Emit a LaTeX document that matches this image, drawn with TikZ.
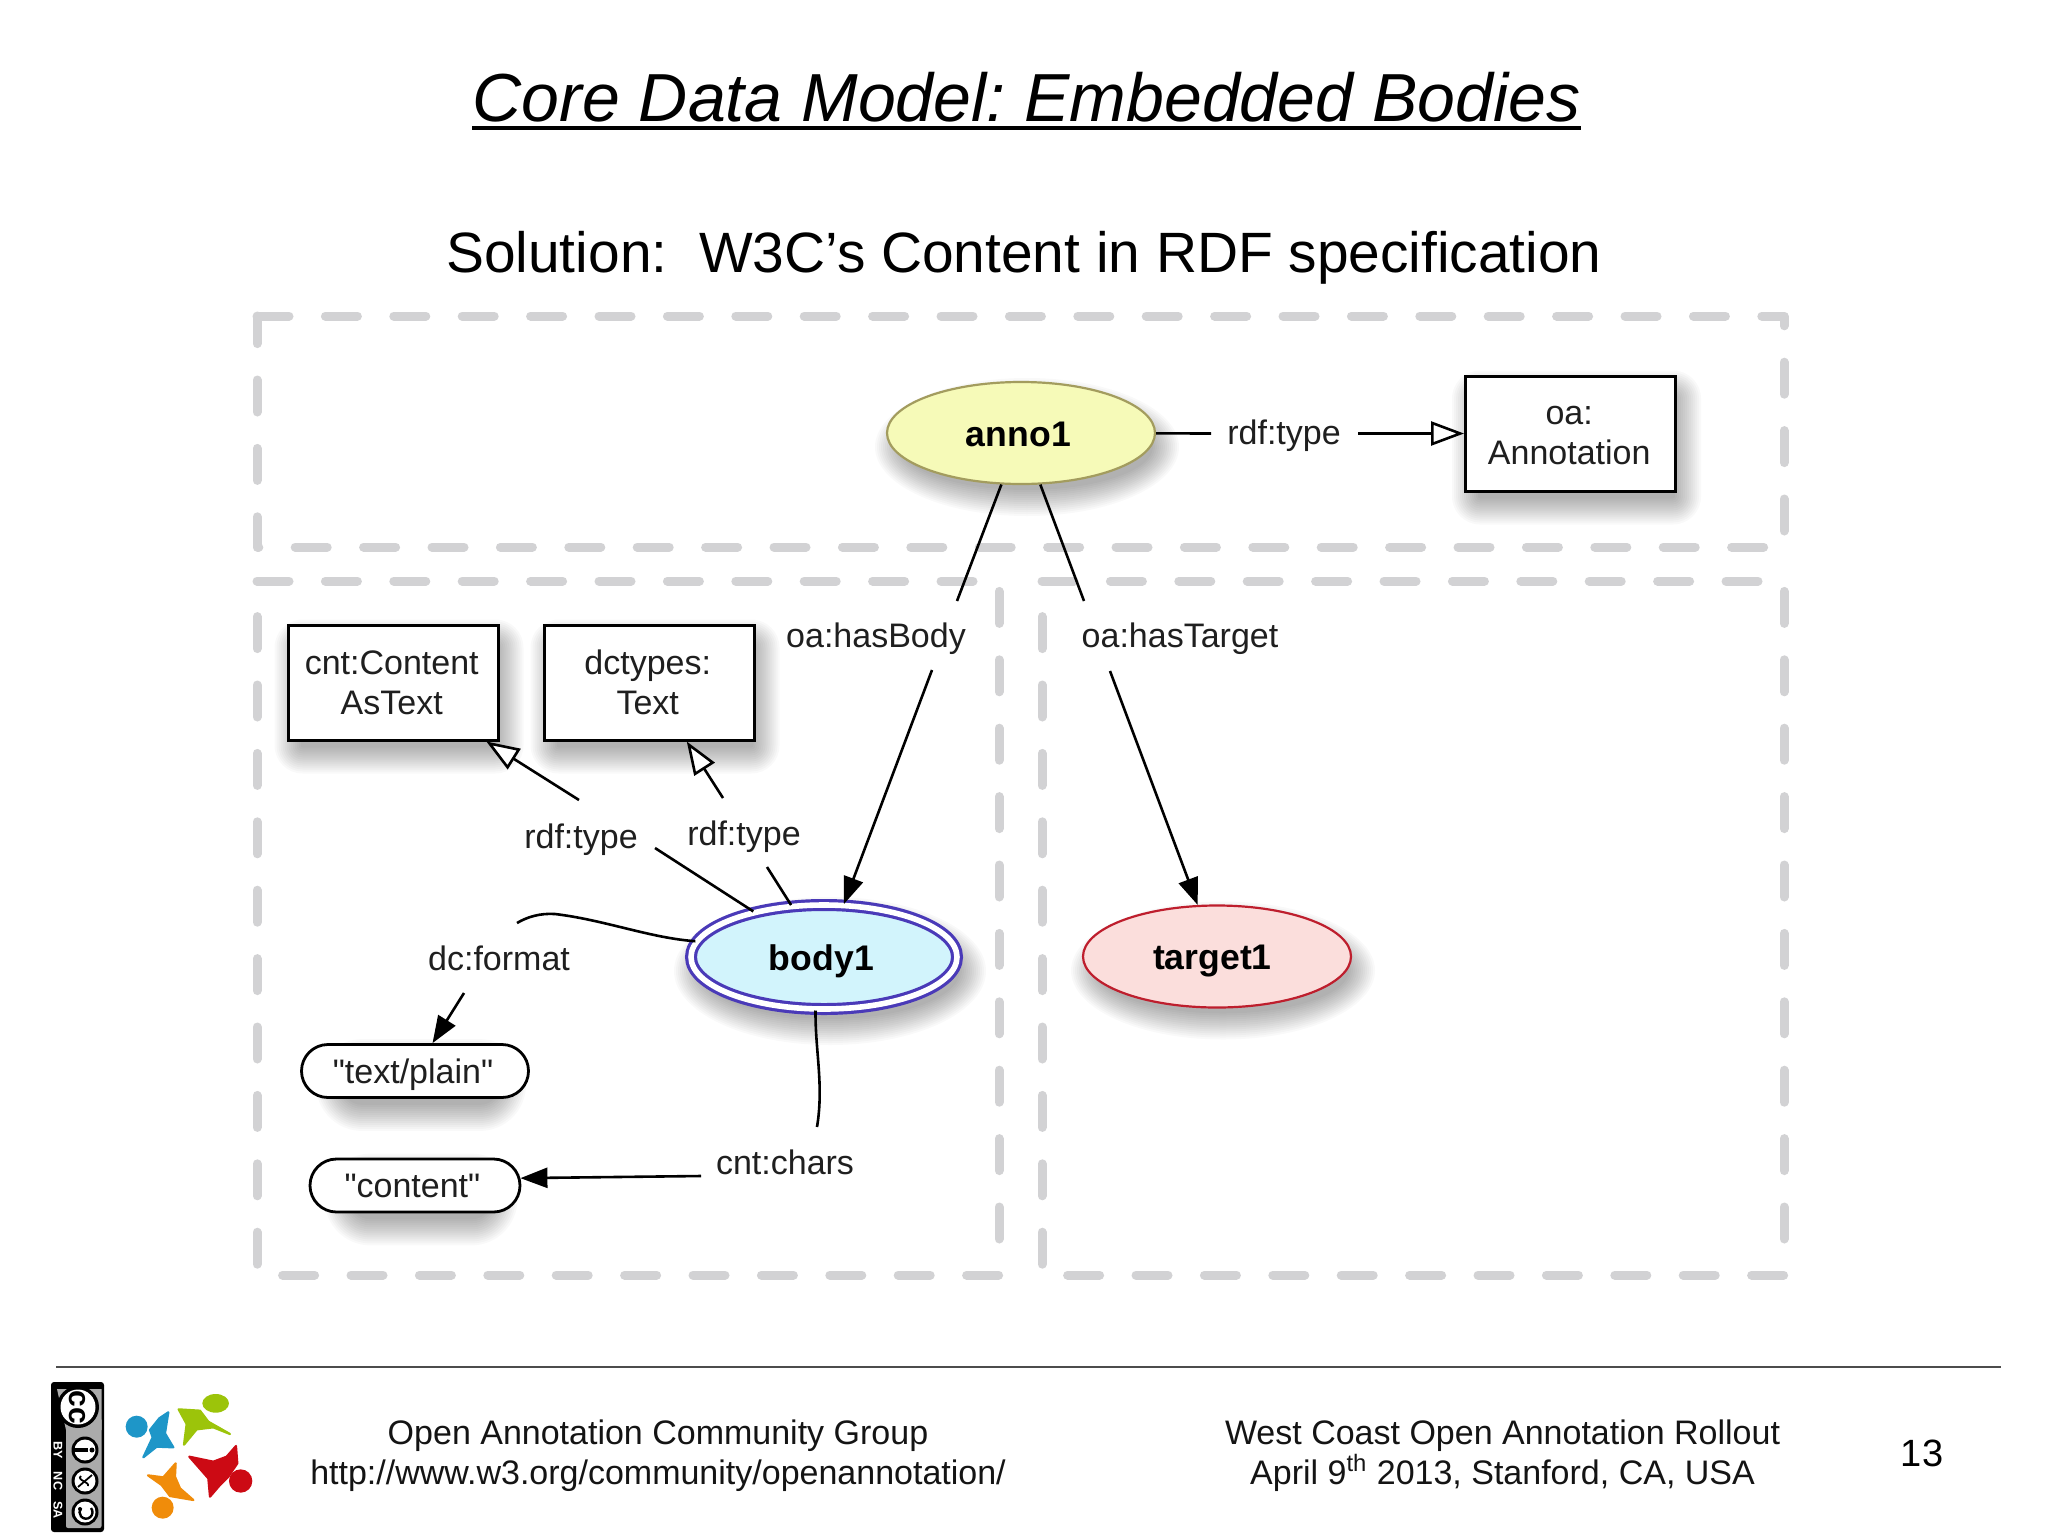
\documentclass[tikz,border=0pt]{standalone}
\usepackage{fontspec}
\setmainfont{Liberation Sans}
\newfontfamily\qfont{Liberation Sans}
\usetikzlibrary{arrows.meta,shapes.geometric,shapes.misc,calc}
\pgfdeclarelayer{bg}
\pgfsetlayers{bg,main}
\definecolor{dashgray}{HTML}{D2D2D4}
\definecolor{annofill}{HTML}{F6FAB8}
\definecolor{annoline}{HTML}{A39C5E}
\definecolor{bodyfill}{HTML}{D2F4FC}
\definecolor{bodyline}{HTML}{4A3AB8}
\definecolor{targetfill}{HTML}{FBDEDC}
\definecolor{targetline}{HTML}{BE1E2D}
\definecolor{ccgray}{HTML}{ABABAB}
\definecolor{lgblue}{HTML}{1E96C8}
\definecolor{lggreen}{HTML}{9CC40A}
\definecolor{lgred}{HTML}{CC0A14}
\definecolor{lgorange}{HTML}{F08C0A}
\newcommand{\rectshadow}[2]{%
  \foreach \s in {-4,-3,...,9}{%
    \fill[black,opacity=.024,rounded corners={max(#2+\s+5,1)*1pt}]
      ([xshift={(3-\s)*1pt},yshift={(-7+\s)*1pt}]#1.north west) rectangle
      ([xshift={(3+\s)*1pt},yshift={(-7-\s)*1pt}]#1.south east);}}
\newcommand{\ellshadow}[3]{%
  \foreach \s in {-4,-3,...,9}{%
    \fill[black,opacity=.024] ([xshift=3pt,yshift=-7pt]#1.center)
      ellipse [x radius={(#2+\s)*1pt},y radius={(#3+\s)*1pt}];}}
\tikzset{
  zone/.style={draw=dashgray,line width=4.5pt,line cap=round,line join=round,dash pattern=on 16pt off 18.2pt},
  dfont/.style={font=\fontsize{17}{20}\selectfont},
  lbl/.style={dfont,inner sep=0pt,text=black!88},
  klass/.style={dfont,draw=black,line width=1.5pt,fill=white,align=center,inner sep=0pt,
    minimum width=105pt,minimum height=57.5pt,text=black!88},
  inst/.style={ellipse,font=\fontsize{17.8}{20}\bfseries\selectfont,inner sep=0pt,minimum width=134pt,minimum height=51pt,line width=1.1pt,text height=13.3pt,text depth=0pt},
  lit/.style={dfont,rounded rectangle,draw=black,line width=1.4pt,fill=white,inner sep=0pt,minimum height=26.5pt,text=black!88,text height=12.4pt,text depth=0pt},
  edge/.style={draw=black,line width=1.3pt},
  solid head/.style={edge,-{Triangle[length=13.5pt,width=10pt]}},
  open head/.style={edge,-{Triangle[open,length=16.5pt,width=12pt,fill=white]}},
  foot/.style={font=\fontsize{17}{19.75}\selectfont,align=center,inner sep=0pt,text=black!92},
  logo/.style={line width=1.1pt,line join=round},
  cclabel/.style={rotate=-90,text=white,font=\fontsize{6.3}{6.3}\bfseries\selectfont,inner sep=0pt},
}
\begin{document}
\frenchspacing
\begin{tikzpicture}[x=.5pt,y=-.5pt]
\useasboundingbox (0,0) rectangle (2048,1536);
\begin{pgfonlayer}{bg}
\fill[white] (0,0) rectangle (2048,1536);
\end{pgfonlayer}

% title
\node[font=\fontsize{34}{40}\itshape\selectfont,anchor=base,inner sep=0pt] (title) at (1026.5,121) {Core Data Model: Embedded Bodies};
\draw[line width=2pt] ([yshift=-3.6pt]title.base west) -- ([yshift=-3.6pt]title.base east);
\node[font=\fontsize{28.43}{34}\selectfont,anchor=base,inner sep=0pt] (subtitle) at (1024,272) {Solution:\ \ W3C’s Content in RDF specification};

% zones
\draw[zone] (257,316) -| (1784,547) -| (257,316) -- cycle;
\draw[zone] (257,581) -| (999,1275) -| (257,581) -- cycle;
\draw[zone] (1042,581) -| (1784,1275) -| (1042,581) -- cycle;

% nodes
\node[inst,draw=annoline,fill=annofill] (anno1) at (1021,433) {anno1\kern2.6pt};
\node[inst,draw=bodyline,fill=bodyfill,double=white,double distance=2.8pt,line width=1.6pt,minimum width=133pt,minimum height=52pt] (body1) at (824,957) {body1\kern2.6pt};
\node[inst,draw=targetline,fill=targetfill] (target1) at (1217,956.5) {target1\kern4.6pt};
\node[klass] (annot) at (1570.5,433.5) {\rule{0pt}{11.5pt}oa:\kern1.3pt\\Annotation\kern1.3pt};
\node[klass] (content) at (393,682.5) {cnt:Content\kern1.3pt\\AsText\kern1.3pt};
\node[klass] (dctext) at (649,682.5) {dctypes:\kern1.3pt\\Text\kern1.3pt};
\node[lit,minimum width=113.5pt] (plain) at (415,1071) {\qfont "text/plain"\kern2pt};
\node[lit,minimum width=105pt] (cstr) at (415,1185.5) {\qfont "content"\kern2.6pt};

% shadows
\begin{pgfonlayer}{bg}
\ellshadow{anno1}{67}{25.5}
\ellshadow{body1}{69}{28}
\ellshadow{target1}{67}{25.5}
\rectshadow{annot}{0}
\rectshadow{content}{0}
\rectshadow{dctext}{0}
\rectshadow{plain}{9}
\rectshadow{cstr}{9}
\end{pgfonlayer}

% labels
\node[lbl] (ltype0) at (1284,436) {rdf:type};
\node[lbl] (lbody) at (876,639) {oa:hasBody};
\node[lbl] (ltarget) at (1180,639) {oa:hasTarget};
\node[lbl] (ltype1) at (581,840) {rdf:type};
\node[lbl] (ltype2) at (744,837) {rdf:type};
\node[lbl] (lformat) at (499,958) {dc:format};
\node[lbl] (lchars) at (785,1162) {cnt:chars};

% free ends of the broken connectors
\coordinate (a0) at (1211,433.5);
\coordinate (a1) at (1358,433.5);
\coordinate (b0) at (957,601);
\coordinate (b1) at (932,670);
\coordinate (t0) at (1084,601);
\coordinate (t1) at (1110,671);
\coordinate (c0) at (655,848);
\coordinate (c1) at (579,800);
\coordinate (d0) at (767,867);
\coordinate (d1) at (723,798);
\coordinate (f0) at (517,923);
\coordinate (f1) at (464,993);
\coordinate (h0) at (817,1127);
\coordinate (h1) at (701,1176);

\draw[edge] (anno1) -- (a0);
\draw[open head] (a1) -- (annot);
\draw[edge] (anno1) -- (b0);
\draw[solid head] (b1) -- (body1);
\draw[edge] (anno1) -- (t0);
\draw[solid head] (t1) -- (target1);
\draw[edge] (body1) -- (c0);
\draw[open head] (c1) -- (content);
\draw[edge] (body1) -- (d0);
\draw[open head] (d1) -- (dctext);
\draw[edge] (body1.173) .. controls (650,938) and (605,920) .. (555,914) .. controls (540,913) and (527,917) .. (f0);
\draw[solid head] (f1) -- (plain);
\draw[edge] (body1.261) .. controls (815,1050) and (824,1085) .. (h0);
\draw[solid head] (h1) -- (cstr.4);

% footer
\coordinate (fl) at (56,1367);
\coordinate (fr) at (2001,1367);
\draw[black!70,line width=.8pt] (fl) -- (fr);
\node[foot] (fleft) at (658,1455.5) {Open Annotation Community Group\\http://www.w3.org/community/openannotation/};
\node[foot] (fright) at (1502.5,1455.5) {West Coast Open Annotation Rollout\\April 9\textsuperscript{th} 2013, Stanford, CA, USA};
\node[font=\fontsize{19}{22}\selectfont,inner sep=0pt] (pageno) at (1922,1453) {13};

% CC badge
\fill[black,rounded corners=1.5pt] (51,1382) rectangle (104,1532);
\fill[ccgray,rounded corners=1pt] (66,1418) rectangle (101.5,1528);
\fill[ccgray] (57,1389) -- (101.5,1389) -- (101.5,1430) -- (66,1430) -- cycle;
\fill[black] (78,1407) circle (21);
\fill[white] (78,1407) circle (17.5);
\node[rotate=-90,font=\fontsize{15}{15}\bfseries\selectfont,inner sep=0pt] (cc) at (77,1407) {cc};
\foreach \cy in {1450,1481,1512}{
  \fill[black] (85,\cy) circle (13.5);
  \fill[white] (85,\cy) circle (10.5);}
\fill[black] (92,1450) circle (2.5);
\fill[black] (74,1448) rectangle (88,1452);
\draw[black,line width=.9pt] (78,1487) -- (92,1475);
\draw[black,line width=.9pt] (81,1476) .. controls (76,1480) and (90,1482) .. (88,1486);
\draw[black,line width=1.2pt] (91,1508) arc[start angle=-40,end angle=220,radius=6.5];
\fill[black] (80,1509) circle (2);
\node[cclabel] (by) at (58,1450) {BY};
\node[cclabel] (nc) at (58,1481) {NC};
\node[cclabel] (sa) at (58,1510) {SA};

% community logo (drawn in the 3x coordinates of its crop)
\begin{scope}[x=.5pt/3,y=-.5pt/3,yshift=-675pt]
\fill[lgblue] (410,230) circle (33);
\filldraw[lgblue,logo] (505,187) -- (478,205) -- (450,240) -- (458,262) -- (430,322) -- (470,290) -- (520,292) -- (495,250) -- cycle;
\fill[lggreen] (647,160) ellipse [x radius=40,y radius=28];
\filldraw[lggreen,logo] (536,178) -- (600,182) -- (625,215) -- (690,252) -- (640,232) -- (590,238) -- (552,284) -- (560,222) -- cycle;
\fill[lgred] (722,393) circle (35);
\filldraw[lgred,logo] (568,320) -- (640,335) -- (680,320) -- (708,288) -- (712,340) -- (685,380) -- (660,405) -- (630,440) -- (625,385) -- cycle;
\fill[lgorange] (488,473) circle (33);
\filldraw[lgorange,logo] (527,340) -- (490,382) -- (444,376) -- (485,405) -- (510,438) -- (580,450) -- (540,415) -- (525,380) -- cycle;
\end{scope}
\end{tikzpicture}
\end{document}
